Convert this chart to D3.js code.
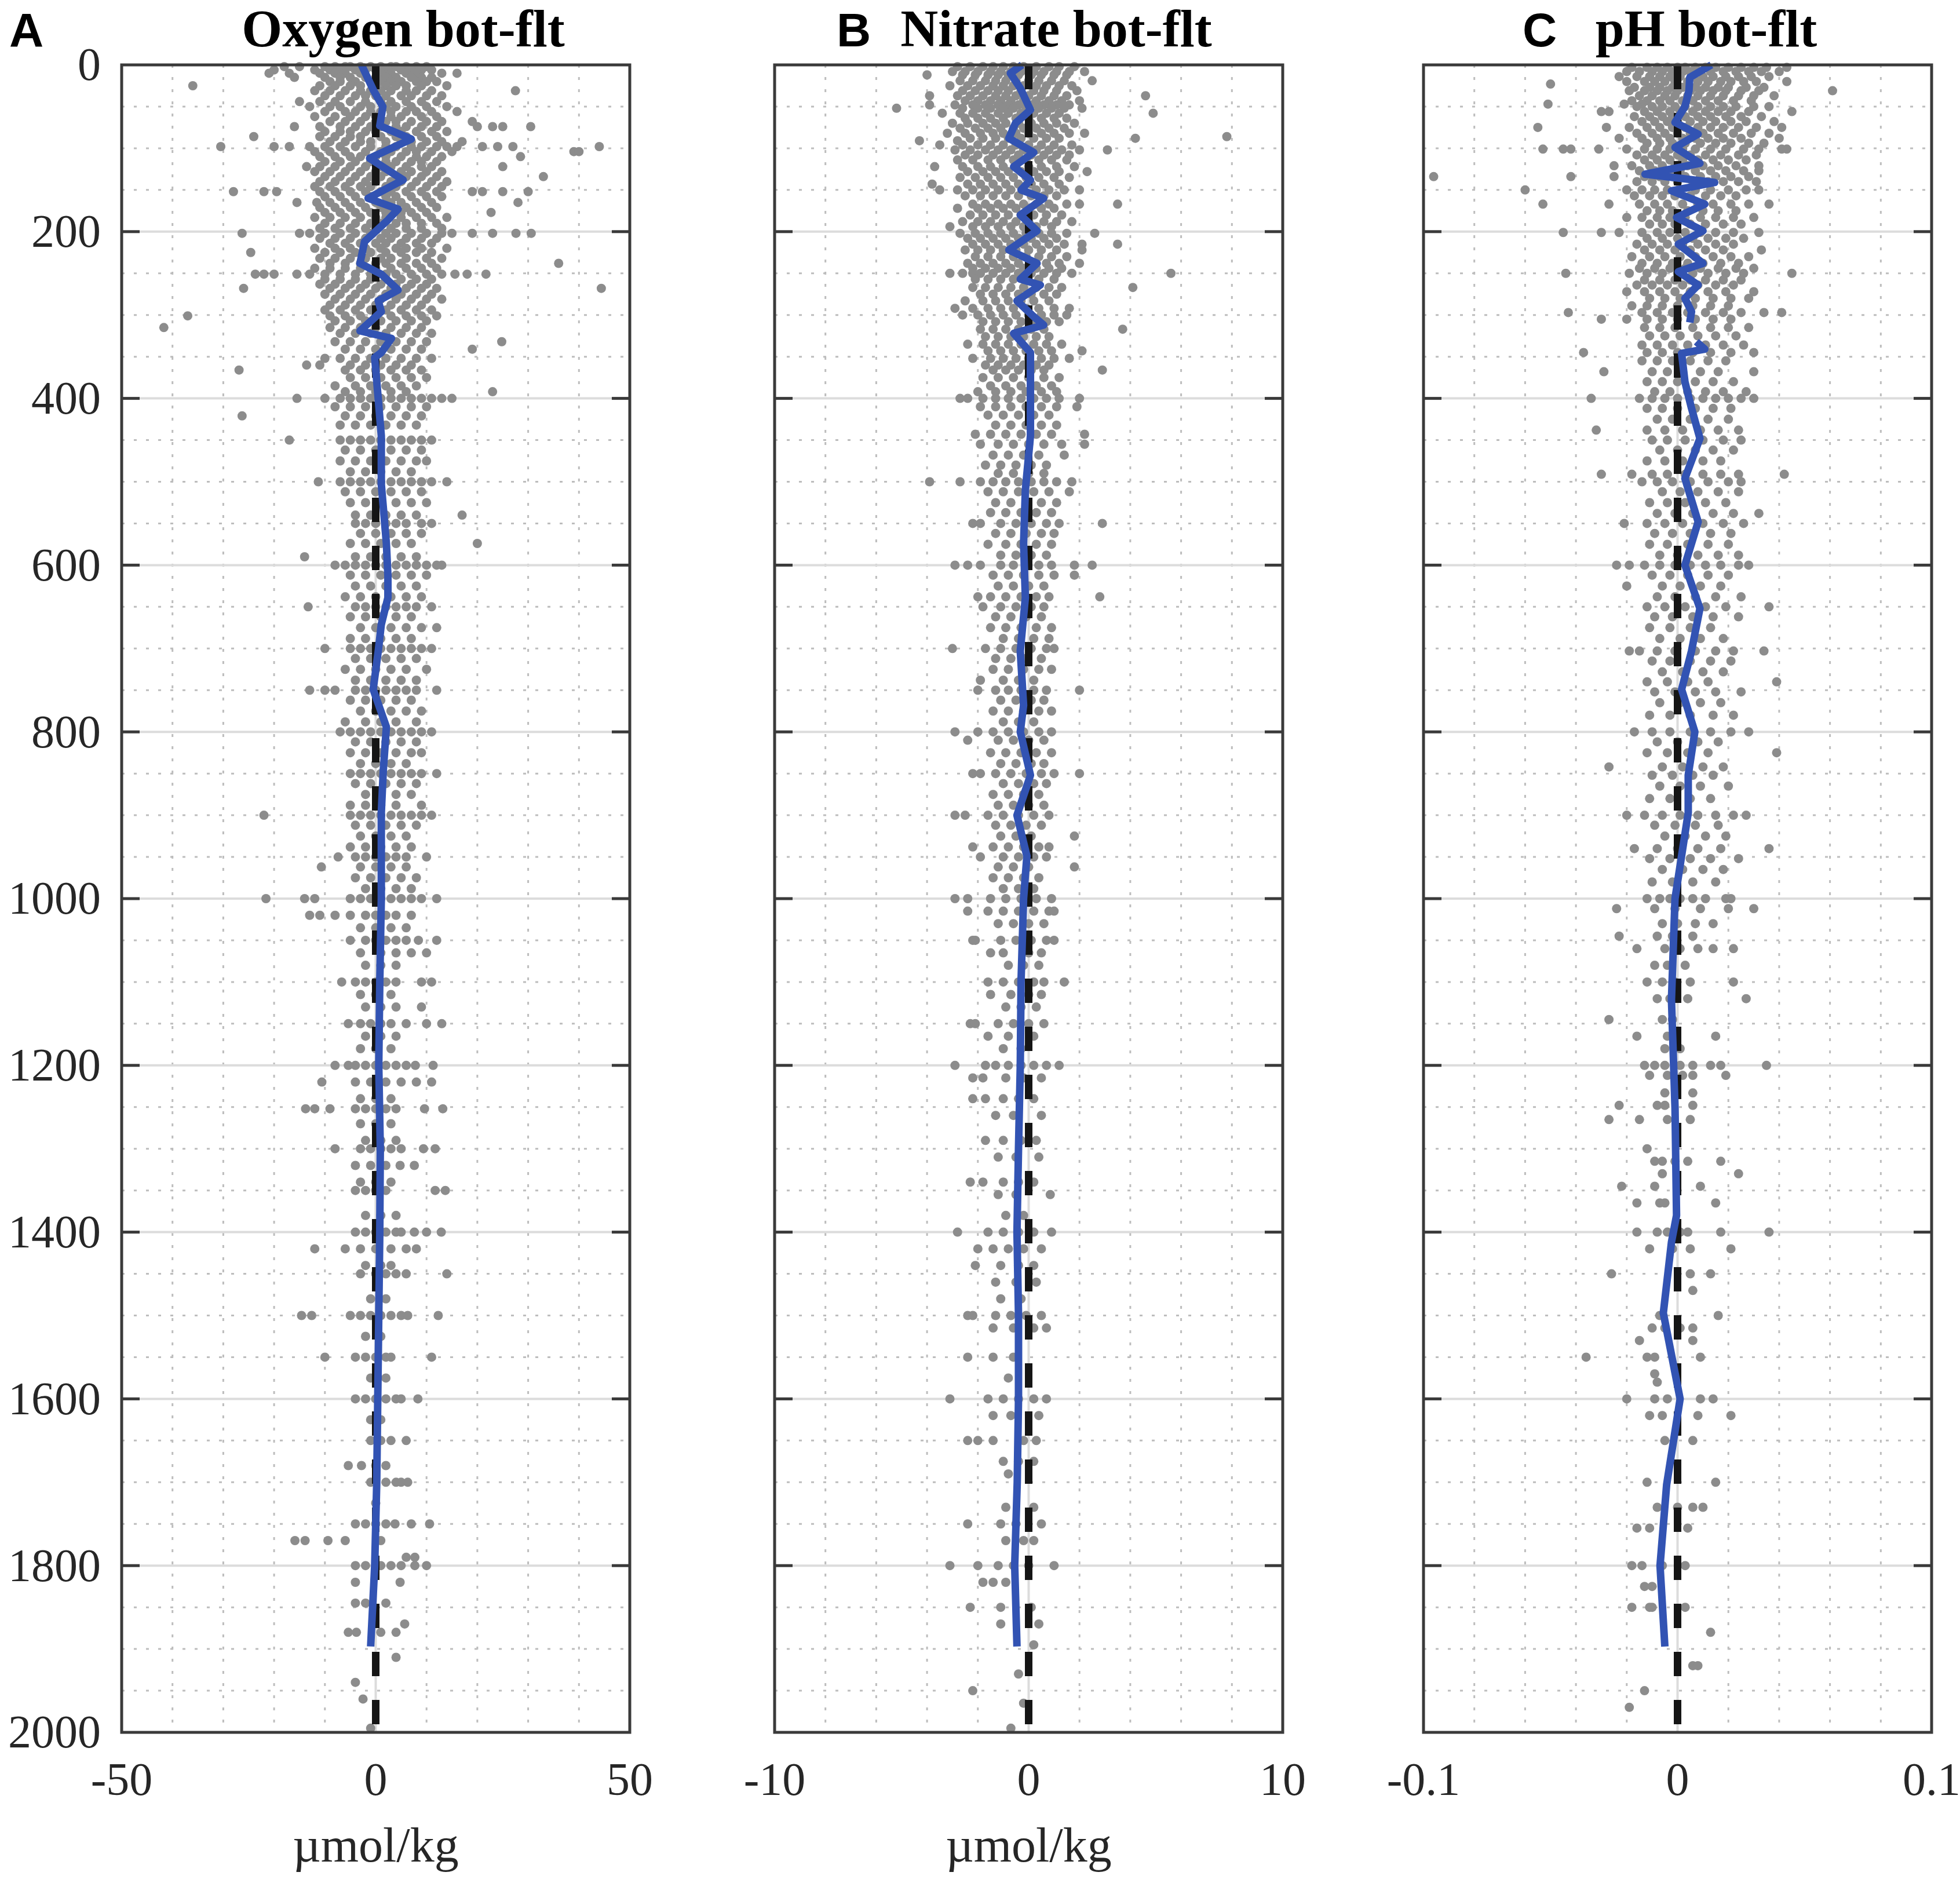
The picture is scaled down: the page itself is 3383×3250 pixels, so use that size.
<!DOCTYPE html>
<html><head><meta charset="utf-8">
<script src="https://cdn.jsdelivr.net/npm/d3@7"></script>
<style>html,body{margin:0;padding:0;background:#fff;}svg{display:block;}</style>
</head><body>
<script>
// ---------- DATA ----------
const panelTitles = ["Oxygen bot-flt", "Nitrate bot-flt", "pH bot-flt"];
const panelLetters = ["A", "B", "C"];
const xDomains = [[-50, 50], [-10, 10], [-0.1, 0.1]];
const xTickValues = [[-50, 0, 50], [-10, 0, 10], [-0.1, 0, 0.1]];
const xTickLabels = [["-50", "0", "50"], ["-10", "0", "10"], ["-0.1", "0", "0.1"]];
const xAxisLabels = ["µmol/kg", "µmol/kg", ""];
const depthDomain = [0, 2000];
const depthTickValues = [0, 200, 400, 600, 800, 1000, 1200, 1400, 1600, 1800, 2000];
const depthTickLabels = ["0","200","400","600","800","1000","1200","1400","1600","1800","2000"];

// scatter: [depth, [differences at that depth]]
const oxygenRows = [
[2,[-18,-15,-10,-8,-6,-5,-3,-1,1,3,4,6,8,10]],
[6,[-20,-12,-9,-7,-4,-2,0,2,5,7,9,11]],
[10,[-21,-17,-11,-8,-6,-3,1,3,6,8,13,16]],
[15,[-16,-10,-7,-5,-2,0,2,4,7,9,11]],
[20,[-9,-7,-4,-1,1,3,5,8,10,12]],
[25,[-36,-11,-8,-5,-3,0,2,4,6,9,14]],
[31,[-12,-9,-6,-3,-1,1,3,6,8,11,27.5]],
[37,[-10,-7,-4,-2,0,2,5,7,10,13]],
[44,[-15,-11,-8,-5,-2,1,3,6,9,12]],
[50,[-13,-9,-7,-3,-1,2,4,7,10,14]],
[56,[-10,-6,-4,-1,1,3,6,8,11,16]],
[62,[-12,-8,-5,-2,0,3,5,9,12]],
[68,[-9,-6,-3,0,2,4,7,10,13,19]],
[74,[-16,-11,-7,-4,-1,1,4,6,9,12,20,23,25,30.5]],
[80,[-10,-7,-5,-2,0,3,5,8,11,14]],
[86,[-24,-11,-8,-5,-3,1,4,6,9,12]],
[92,[-9,-6,-3,-1,2,5,7,10,13,17]],
[98,[-30.5,-20,-17,-13,-10,-7,-4,-1,2,4,7,9,12,14,16,21,24,27,44]],
[104,[-12,-9,-6,-2,1,3,6,8,11,15,39,40]],
[110,[-11,-8,-5,-3,0,2,5,8,10,13,28.5]],
[116,[-10,-7,-4,-1,2,4,7,9,12]],
[122,[-13.6,-11,-8,-5,-2,1,3,6,9,11,25]],
[128,[-12,-9,-6,-3,0,2,5,7,10,13]],
[134,[-10,-7,-4,-1,1,4,6,9,12,33]],
[140,[-11,-8,-5,-2,0,3,5,8,11,14]],
[146,[-12,-9,-6,-3,-1,2,4,7,10,13]],
[152,[-28,-22,-19.5,-11,-8,-5,-2,1,3,6,9,12,19,21,25,30]],
[158,[-10,-7,-4,-1,2,4,7,10,13]],
[165,[-15.5,-11.6,-9,-6,-3,0,3,5,8,11,28]],
[171,[-11,-8,-5,-2,1,3,6,9,12]],
[177,[-10,-7,-4,-1,2,5,7,10,22.7]],
[183,[-12,-9,-6,-3,0,2,5,8,11,14]],
[190,[-10,-7,-4,-1,1,4,6,9,12]],
[196,[-11,-8,-5,-2,0,3,6,9,13]],
[202,[-26.3,-15,-13,-10,-7,-4,-1,2,4,7,10,13,15,19,23,27.6,30.6]],
[208,[-11,-8,-5,-2,1,3,6,9,12]],
[214,[-9,-6,-3,0,2,5,8,11]],
[220,[-12,-8,-5,-2,1,4,6,9,14]],
[225,[-24.6,-10,-7,-4,-1,2,5,8,11]],
[232,[-11,-8,-5,-2,1,3,6,10,13]],
[238,[-9,-6,-3,0,2,5,8,11,36]],
[244,[-12,-9,-6,-3,0,3,6,9,12]],
[251,[-23.7,-22,-20,-15.5,-13,-10,-7,-4,-1,2,4,7,10,13,15.6,18,21.7]],
[257,[-10,-7,-4,-1,2,5,8,11]],
[263,[-11,-8,-5,-2,1,4,7,10]],
[268,[-26,-9,-6,-3,0,3,6,9,12,44.4]],
[275,[-10,-7,-4,-1,2,5,8,11]],
[281,[-8,-5,-2,1,4,7,10,13]],
[288,[-9,-6,-3,0,3,6,9]],
[294,[-10,-7,-4,-1,2,5,8,11]],
[301,[-37,-9,-6,-3,0,3,6,9,12]],
[307,[-8,-5,-2,1,4,7,10]],
[315,[-41.7,-9,-6,-3,0,3,6,9]],
[322,[-7,-4,-1,2,5,8,11]],
[332,[-8,-5,-2,1,4,7,10,24.8]],
[341,[-6,-3,0,3,6,9,19]],
[352,[-10,-7,-4,-1,2,5,8,11]],
[360,[-13.6,-11,-5,-2,1,4,7]],
[366,[-26.9,-6,-3,0,3,6,9]],
[375,[-5,-2,1,4,7,10]],
[385,[-8,-4,-1,2,5,8]],
[392,[-6,-3,0,3,6,23]],
[400,[-15.5,-10,-7,-5,-3,-1,1,3,5,7,9,11,13,15]],
[410,[-8,-5,-2,1,4,7,10]],
[421,[-26.3,-6,-3,0,3,6,9]],
[432,[-7,-4,-1,2,5,8]],
[450,[-17,-7,-5,-3,-1,1,3,5,7,9,11]],
[462,[-6,-3,0,3,6,9]],
[475,[-7,-4,-1,2,5,8,10]],
[488,[-5,-2,1,4,7]],
[500,[-11.3,-7,-5,-3,-1,1,3,5,7,9,11,14]],
[512,[-6,-3,0,3,6,9]],
[525,[-5,-2,1,4,7,10]],
[540,[-4,-1,2,5,8,17]],
[550,[-4,-2,0,2,4,6,9,11]],
[562,[-3,0,3,6,9]],
[574,[-5,-2,1,4,7,20]],
[590,[-14,-4,-1,2,5,8]],
[600,[-8,-6,-4,-2,0,2,4,6,8,10,12,13]],
[612,[-5,-2,1,4,7,10]],
[625,[-4,-1,2,5,8]],
[638,[-6,-3,0,3,6,9]],
[650,[-13.3,-4,-2,0,2,4,6,8,11]],
[662,[-5,-2,1,4,7]],
[675,[-3,0,3,6,9,12]],
[688,[-5,-2,1,4,7]],
[700,[-10,-5,-3,-1,1,3,5,7,9,11]],
[712,[-4,-1,2,5,8]],
[725,[-6,-3,0,3,6,10]],
[738,[-4,-1,2,5,8]],
[750,[-13,-10,-8,-4,-2,0,2,4,6,8,12]],
[762,[-5,-2,1,4,7]],
[775,[-3,0,3,6,9]],
[788,[-6,-2,1,4,8]],
[800,[-7,-5,-3,-1,1,3,5,7,9,11]],
[812,[-4,-1,2,5,8]],
[825,[-5,-2,1,4,7,9]],
[838,[-3,0,3,6]],
[850,[-5,-3,-1,1,3,5,7,9,12]],
[862,[-4,-1,2,5,8]],
[875,[-2,1,4,7]],
[888,[-5,-2,1,4,9]],
[900,[-22,-5,-3,-1,1,3,5,7,9,11]],
[912,[-4,-1,2,5,8]],
[925,[-3,0,3,6]],
[938,[-5,-2,1,4,7]],
[950,[-7.4,-4,-2,0,2,4,6,10]],
[962,[-10.7,-3,0,3,6]],
[975,[-4,-1,2,5,8]],
[988,[-2,1,4,7]],
[1000,[-21.6,-14,-12,-5,-3,-1,1,3,5,7,9,12]],
[1020,[-13,-11,-8,-5,-2,0,2,4,7]],
[1035,[-3,0,3,6]],
[1050,[-5,-2,0,2,4,6,8.4,12]],
[1065,[-3,1,4,7,10]],
[1080,[-2,1,4]],
[1100,[-6.7,-4,-2,0,2,4,9,11]],
[1115,[-3,0,3]],
[1130,[-2,1,4,9]],
[1150,[-5.4,-3,-1,1,3,6,10,13]],
[1165,[-2,1,4]],
[1180,[-3,0,3]],
[1200,[-8,-5.4,-4,-2,0,2,4,6,7.8,11.3]],
[1220,[-10.6,-4,-1,2,5,8,11]],
[1240,[-3,0,3]],
[1252,[-13.8,-12,-9,-4,-2,0,2,4,9.6,13.2]],
[1270,[-3,0,3]],
[1290,[-2,1,4]],
[1300,[-8,-3,-1,1,3,5,9.4,11.7]],
[1320,[-4,-1,2,4.8,7.6]],
[1340,[-3,0,3]],
[1350,[-4,-2,0,2,11.7,13.7]],
[1380,[-2,1,4]],
[1400,[-4,-2,0,2,4,5,7.6,10,12.9]],
[1420,[-12,-6,-3,0,3,6,8]],
[1440,[-2,1,3]],
[1450,[-3,0,2,4,6,14]],
[1480,[-1,2]],
[1500,[-14.6,-12.6,-5,-3,-1,1,3,5,6.3,12.3]],
[1525,[-2,1]],
[1550,[-10,-4,-2,0,2,3,11]],
[1575,[-1,2]],
[1600,[-4,-2,0,2,4,5,8.3]],
[1625,[-1,1]],
[1650,[-1,1,3,6]],
[1680,[-5.4,-2.8,0,2]],
[1700,[-1,2,4,5,6.3]],
[1725,[0]],
[1750,[-4,-2,0,2,3.8,7,10.6]],
[1770,[-15.9,-13.9,-9.4,-6,1]],
[1790,[7.7,6]],
[1800,[-4,-2,0,1,3,5,7.7,10]],
[1820,[-4,4.8]],
[1845,[-4,-2,2]],
[1870,[5.7]],
[1880,[-5.4,-3.8,1,4]],
[1910,[4]],
[1940,[-4]],
[1960,[-2.5]],
[1995,[-1]]
];

const nitrateRows = [
[2,[-2.8,-2.3,-1.8,-1.4,-1,-0.6,-0.2,0.3,0.8,1.2,1.8]],
[8,[-3,-2.5,-2,-1.5,-1.1,-0.7,-0.3,0.2,0.6,1.1,1.6,2.2]],
[12,[-4,-2.6,-2.1,-1.6,-1.2,-0.8,-0.4,0.1,0.5,1,1.5]],
[19,[-2.7,-2.2,-1.7,-1.3,-0.9,-0.5,0,0.4,0.9,1.4,2.5]],
[25,[-3.1,-2.4,-1.9,-1.4,-1,-0.6,-0.2,0.3,0.7,1.2,1.7]],
[31,[-2.6,-2.1,-1.6,-1.2,-0.8,-0.3,0.2,0.6,1.1,1.9]],
[37,[-3.9,-2.8,-2.3,-1.8,-1.3,-0.9,-0.5,0,0.5,1,1.5,4.6]],
[43,[-2.5,-2,-1.5,-1.1,-0.7,-0.2,0.3,0.8,1.3,2]],
[48,[-3.9,-2.9,-2.2,-1.7,-1.2,-0.8,-0.4,0.1,0.6,1.1,1.6]],
[52,[-5.2,-2.6,-2,-1.5,-1,-0.6,-0.1,0.4,0.9,1.4,2.1]],
[58,[-3.4,-2.7,-2.2,-1.7,-1.2,-0.8,-0.3,0.2,0.7,1.2,4.9]],
[64,[-2.5,-2,-1.5,-1,-0.5,0,0.5,1,1.5]],
[70,[-3,-2.4,-1.8,-1.3,-0.9,-0.4,0.1,0.6,1.1,1.8]],
[76,[-2.7,-2.1,-1.6,-1.1,-0.6,-0.2,0.3,0.8,1.4]],
[82,[-3.2,-2.5,-1.9,-1.4,-1,-0.5,0,0.5,1,1.6,2.2]],
[86,[7.8]],
[88,[-2.3,-1.8,-1.3,-0.8,-0.3,0.2,0.7,1.2,4.2]],
[91,[-4.3,-2.8]],
[96,[-3.5,-2.6,-2,-1.5,-1,-0.5,0,0.5,1,1.7]],
[102,[-2.9,-2.3,-1.7,-1.2,-0.7,-0.2,0.3,0.8,1.3,2,3.1]],
[108,[-2.5,-2,-1.4,-0.9,-0.4,0.1,0.6,1.1,1.6]],
[114,[-2.8,-2.2,-1.6,-1.1,-0.6,-0.1,0.4,0.9,1.5]],
[122,[-3.7,-2.6,-2,-1.5,-1,-0.5,0,0.5,1.1,1.8]],
[128,[-2.4,-1.8,-1.3,-0.8,-0.3,0.2,0.7,1.2,2.3]],
[135,[-2.7,-2.1,-1.6,-1.1,-0.6,-0.1,0.4,1,1.6]],
[143,[-3.8,-2.4,-1.9,-1.4,-0.9,-0.4,0.1,0.6,1.2]],
[150,[-3.5,-2.8,-2.2,-1.7,-1.2,-0.7,-0.2,0.3,0.8,1.4,2]],
[157,[-2.5,-1.9,-1.4,-0.9,-0.4,0.1,0.6,1.1]],
[167,[-2.2,-1.7,-1.2,-0.7,-0.2,0.3,0.8,1.5,2,3.5]],
[172,[-2.8,-2,-1.5,-1,-0.5,0,0.5,1]],
[180,[-2.3,-1.8,-1.3,-0.8,-0.3,0.2,0.7,1.3]],
[188,[-2.6,-2,-1.5,-1,-0.5,0,0.6,1.1,1.7]],
[194,[-3.1,-2.2,-1.7,-1.2,-0.7,-0.2,0.3,0.9]],
[202,[-2.7,-2.1,-1.6,-1.1,-0.6,-0.1,0.4,0.9,1.5,2.6]],
[208,[-2.4,-1.9,-1.4,-0.9,-0.4,0.1,0.6,1.1]],
[215,[-2.2,-1.7,-1.2,-0.7,-0.2,0.3,0.8,1.4,2.1,3.5]],
[222,[-2.5,-2,-1.5,-1,-0.5,0,0.5,1.1,2.1]],
[230,[-2.1,-1.6,-1.1,-0.6,-0.1,0.4,0.9,1.5]],
[238,[-2.4,-1.9,-1.4,-0.9,-0.4,0.1,0.7,1.2,2]],
[244,[-2.2,-1.7,-1.2,-0.7,-0.2,0.3,0.8,1.3]],
[250,[-3.1,-2.6,-2.2,-1.9,-1.4,-0.9,-0.4,0.1,0.6,1.1,1.7,5.6]],
[257,[-2.1,-1.6,-1.1,-0.6,-0.1,0.4,1]],
[267,[-2.2,-1.7,-1.2,-0.7,-0.2,0.3,0.8,1.3,4.1]],
[275,[-1.9,-1.4,-0.9,-0.4,0.1,0.6,1.1]],
[283,[-2.5,-1.8,-1.3,-0.8,-0.3,0.2,0.8]],
[292,[-2.9,-2.2,-1.6,-1.1,-0.6,-0.1,0.4,1,1.6]],
[300,[-2.6,-2,-1.5,-1,-0.5,0,0.5,1,1.5]],
[308,[-1.8,-1.3,-0.8,-0.3,0.2,0.7,1.2]],
[317,[-1.9,-1.4,-0.9,-0.4,0.1,0.6,3.7]],
[326,[-1.7,-1.2,-0.7,-0.2,0.3,0.8]],
[335,[-2.4,-1.8,-1.3,-0.8,-0.3,0.2,0.7,1.3]],
[343,[-1.6,-1.1,-0.6,-0.1,0.4,0.9,2.1]],
[352,[-2.2,-1.5,-1,-0.5,0,0.5,1,1.6]],
[360,[-1.7,-1.2,-0.7,-0.2,0.3,0.8]],
[366,[-1.4,-0.9,-0.4,0.1,0.6,2.9]],
[375,[-1.8,-1.2,-0.6,0,0.6,1.2]],
[385,[-1.5,-0.9,-0.3,0.3,0.9]],
[392,[-2,-1.3,-0.7,-0.1,0.5,1.1]],
[400,[-2.7,-2.4,-1.8,-1.3,-0.8,-0.3,0.2,0.7,1.2,2]],
[410,[-1.9,-1.3,-0.7,-0.1,0.5,1.1,1.9]],
[420,[-1.6,-1,-0.4,0.2,0.8]],
[432,[-1.3,-0.7,-0.1,0.5,1.1]],
[443,[-2.1,-1.5,-0.9,-0.3,0.3,0.9,2.2]],
[455,[-1.9,-1.2,-0.6,0,0.6,1.3,2.2]],
[468,[-1.4,-0.8,-0.2,0.4,1.4]],
[480,[-1.7,-1.1,-0.5,0.1,0.7]],
[490,[-1.2,-0.6,0,0.6]],
[500,[-3.9,-2.7,-1.9,-1.4,-0.9,-0.4,0.1,0.6,1.1,1.7]],
[512,[-1.6,-1,-0.4,0.2,0.8,1.6]],
[525,[-1.3,-0.7,-0.1,0.5,1.1]],
[537,[-1.5,-0.9,-0.3,0.3,0.9]],
[550,[-2.2,-1.9,-1.1,-0.5,0.1,0.7,1.2,2.9]],
[562,[-1.3,-0.7,-0.1,0.5,1]],
[575,[-1.6,-0.9,-0.3,0.3,0.9]],
[588,[-1.1,-0.5,0.1,0.7]],
[600,[-2.9,-2.4,-1.9,-1.1,-0.6,-0.1,0.4,0.9,1.8,2.5]],
[612,[-1.4,-0.8,-0.2,0.4,1,1.8]],
[625,[-1.2,-0.6,0,0.6]],
[638,[-2,-1.5,-0.9,-0.3,0.3,0.8,2.8]],
[650,[-1.8,-1.1,-0.5,0.1,0.6]],
[662,[-1.3,-0.7,-0.1,0.5]],
[675,[-1.5,-0.9,-0.3,0.3,0.9]],
[688,[-1,-0.4,0.2,0.8]],
[700,[-3,-1.7,-1.1,-0.5,0.1,0.7,1]],
[712,[-1.3,-0.7,-0.1,0.5]],
[725,[-1.4,-0.8,-0.2,0.4,0.9]],
[738,[-1.9,-1,-0.4,0.2]],
[750,[-2,-1.3,-0.8,-0.3,0.2,0.7,2]],
[762,[-1.1,-0.5,0.1,0.6]],
[775,[-1.4,-0.8,-0.2,0.4,0.9]],
[788,[-1,-0.4,0.2]],
[800,[-2.9,-2,-1.4,-0.8,-0.2,0.4,0.9]],
[810,[-2.4,-1.2,-0.6,0,0.6]],
[825,[-1.5,-0.9,-0.3,0.3,0.9]],
[838,[-1.1,-0.5,0.1,0.6]],
[850,[-2.2,-1.9,-1.3,-0.7,-0.1,0.5,1,2]],
[862,[-1,-0.4,0.2,0.7]],
[875,[-1.4,-0.8,-0.2,0.4]],
[888,[-1.2,-0.6,0,0.6]],
[900,[-2.9,-2.5,-1.6,-1,-0.4,0.2,0.8]],
[912,[-1.3,-0.7,-0.1,0.5]],
[925,[-1.1,-0.5,0.1,1.8]],
[938,[-2.2,-1.4,-0.8,-0.2,0.4,0.8]],
[950,[-1.9,-1,-0.4,0.2,0.7]],
[962,[-1.2,-0.6,0,1.8]],
[975,[-1.4,-0.8,-0.2,0.4]],
[988,[-1,-0.4,0.2]],
[1000,[-2.9,-2.4,-1.5,-0.9,-0.3,0.3,0.9]],
[1015,[-2.4,-1.6,-1,-0.4,0.2,0.8,1]],
[1030,[-1.2,-0.6,0,0.6]],
[1050,[-2.2,-2.1,-1.1,-0.5,0.1,0.7,1]],
[1065,[-1.5,-1,0,0.5]],
[1080,[-0.8,-0.2,0.4]],
[1100,[-1.6,-1,-0.4,0.2,0.6,1.4]],
[1115,[-1.5,-0.7,0,0.5]],
[1130,[-0.9,-0.3,0.3]],
[1150,[-2.3,-2.1,-1.2,-0.6,0,0.6]],
[1165,[-1.6,-0.8,0.2]],
[1180,[-1,-0.3]],
[1200,[-2.9,-1.7,-1.3,-0.8,-0.3,0.2,0.7,1.2]],
[1215,[-2.2,-1.8,-0.9,-0.2,0.5]],
[1240,[-2.2,-1.7,-1,-0.4,0.2]],
[1260,[-1.3,-0.6,0.5]],
[1290,[-1.7,-1,-0.3,0.3]],
[1310,[-1.2,-0.5,0.4]],
[1340,[-2.3,-1.8,-1,-0.4,0.2]],
[1355,[-1.2,-0.5,0.85]],
[1380,[-0.9,-0.2]],
[1400,[-2.8,-1.6,-1,-0.4,0.2,0.9]],
[1420,[-2,-1.4,-0.8,-0.2,0.5]],
[1440,[-2.1,-1.1,-0.4,0.2]],
[1460,[-1.3,-0.5,0.3]],
[1480,[-1.1,-0.3]],
[1500,[-2.4,-2.2,-1.3,-0.7,-0.1,0.5]],
[1515,[-1.4,-0.6,0.2,0.7]],
[1550,[-2.4,-1.4,-0.6]],
[1575,[-0.8]],
[1600,[-3.1,-1.6,-1,-0.4,0.2,0.7]],
[1620,[-1.4,-0.7,0.4]],
[1650,[-2.4,-2,-1.4,-0.2,0.3]],
[1675,[-1,-0.4,0.2]],
[1690,[-0.8]],
[1730,[-0.9,0.2]],
[1750,[-2.4,-1.1,-0.5,0.5]],
[1770,[-0.9,-0.2,0.2]],
[1800,[-3.1,-2,-1.2,-0.6,0,1]],
[1820,[-1.8,-1.4,-0.9]],
[1850,[-2.3,-1.1,0.1]],
[1870,[-1.1,0.4]],
[1895,[0.2]],
[1930,[-0.4]],
[1950,[-2.2]],
[1965,[-0.2]],
[1995,[-0.7]]
];

const phRows = [
[3,[-.018,-.012,-.008,-.004,0,.003,.007,.011,.015,.02,.025,.03,.035,.043]],
[8,[-.02,-.015,-.01,-.006,-.002,.002,.005,.009,.013,.018,.023,.028,.033,.04]],
[14,[-.023,-.016,-.011,-.007,-.003,.001,.006,.01,.014,.019,.024,.029,.036]],
[20,[-.02,-.013,-.009,-.005,-.001,.004,.008,.012,.017,.021,.026,.031,.043]],
[23,[-.05]],
[27,[-.017,-.011,-.007,-.002,.002,.007,.011,.016,.02,.027,.034]],
[31,[-.019,-.013,-.008,-.004,0,.005,.009,.014,.019,.025,.032,.061]],
[37,[-.015,-.01,-.005,-.001,.004,.008,.013,.018,.024,.03,.038]],
[43,[-.018,-.012,-.007,-.003,.002,.006,.011,.016,.022,.029]],
[47,[-.051,-.021,-.014]],
[50,[-.016,-.01,-.006,-.001,.003,.008,.013,.018,.023,.03,.036]],
[56,[-.03,-.027,-.013,-.008,-.003,.001,.006,.011,.016,.021,.028,.045]],
[62,[-.017,-.011,-.006,-.002,.003,.008,.013,.019,.025,.033]],
[68,[-.014,-.009,-.004,0,.005,.01,.015,.021,.027,.038]],
[75,[-.055,-.028,-.019,-.012,-.007,-.002,.003,.008,.013,.018,.024,.031,.041]],
[82,[-.016,-.01,-.005,0,.005,.01,.016,.022,.029,.036]],
[88,[-.023,-.014,-.008,-.003,.002,.007,.012,.018,.025,.04]],
[94,[-.012,-.007,-.002,.003,.009,.015,.021,.028,.034]],
[101,[-.053,-.045,-.042,-.031,-.02,-.013,-.008,-.003,.002,.007,.013,.019,.026,.032,.041,.043]],
[108,[-.016,-.01,-.005,0,.005,.011,.017,.024,.031]],
[114,[-.013,-.008,-.003,.002,.008,.014,.02,.027]],
[121,[-.025,-.018,-.011,-.006,-.001,.004,.01,.016,.023,.032]],
[127,[-.015,-.009,-.004,.001,.007,.013,.019,.026,.032]],
[134,[-.096,-.042,-.025,-.013,-.007,-.002,.003,.009,.015,.021,.028]],
[140,[-.016,-.01,-.005,0,.006,.012,.018,.024,.031]],
[150,[-.06,-.02,-.014,-.009,-.004,.001,.007,.013,.02,.027,.032]],
[157,[-.017,-.011,-.006,-.001,.005,.011,.017,.023]],
[167,[-.053,-.027,-.015,-.009,-.004,.002,.008,.014,.021,.028,.036]],
[175,[-.012,-.007,-.002,.004,.01,.016,.023]],
[183,[-.02,-.014,-.008,-.003,.003,.009,.015,.022,.03]],
[191,[-.011,-.006,-.001,.005,.011,.018,.025]],
[201,[-.045,-.03,-.023,-.014,-.008,-.003,.003,.009,.015,.022,.032]],
[208,[-.012,-.006,0,.006,.012,.019,.026]],
[215,[-.016,-.01,-.004,.002,.008,.015,.022]],
[222,[-.013,-.007,-.001,.005,.011,.018,.033]],
[230,[-.018,-.011,-.005,.001,.007,.014,.021,.028]],
[238,[-.014,-.008,-.002,.004,.01,.017,.024]],
[244,[-.015,-.009,-.003,.003,.009,.016,.023,.03]],
[250,[-.044,-.019,-.012,-.006,0,.006,.012,.019,.026,.045]],
[258,[-.013,-.007,-.001,.005,.011,.018,.025]],
[264,[-.016,-.01,-.004,.002,.008,.015,.022]],
[272,[-.02,-.013,-.007,-.001,.005,.012,.019,.03]],
[280,[-.011,-.005,.001,.007,.014,.021,.028]],
[289,[-.018,-.012,-.006,0,.006,.013,.02]],
[297,[-.043,-.014,-.008,-.002,.004,.011,.018,.025,.034,.041]],
[305,[-.03,-.02,-.012,-.006,0,.007,.014,.021]],
[315,[-.013,-.007,-.001,.006,.013,.02,.028]],
[325,[-.011,-.005,.001,.008,.015,.023]],
[336,[-.014,-.008,-.002,.004,.011,.018,.026]],
[345,[-.037,-.012,-.006,0,.006,.013,.021,.03]],
[355,[-.014,-.008,-.002,.005,.012,.019]],
[368,[-.029,-.01,-.004,.002,.009,.016,.03]],
[380,[-.012,-.006,0,.007,.014,.022]],
[392,[-.009,-.003,.004,.011,.018,.027]],
[400,[-.034,-.015,-.01,-.005,0,.005,.01,.015,.02,.025,.03]],
[412,[-.012,-.006,0,.007,.014,.021]],
[425,[-.008,-.002,.005,.012,.02]],
[438,[-.032,-.012,-.005,.002,.009,.016,.024]],
[450,[-.01,-.004,.003,.01,.018,.025]],
[462,[-.007,0,.007,.014,.022]],
[475,[-.012,-.005,.002,.01,.017]],
[491,[-.03,-.018,-.01,-.004,.003,.01,.017,.024,.042]],
[500,[-.014,-.008,-.002,.005,.012,.02,.025]],
[512,[-.006,.001,.008,.016,.024]],
[525,[-.011,-.004,.003,.011,.019]],
[538,[-.008,-.001,.006,.014,.022,.032]],
[550,[-.021,-.012,-.005,.002,.01,.018,.026]],
[562,[-.009,-.002,.005,.013,.021]],
[575,[-.011,-.004,.004,.012,.02]],
[588,[-.007,0,.008,.016,.024]],
[600,[-.024,-.019,-.013,-.007,-.001,.005,.011,.017,.024,.028]],
[612,[-.01,-.003,.004,.012,.02]],
[625,[-.02,-.006,.001,.009,.017]],
[638,[-.008,-.001,.007,.015,.025]],
[650,[-.012,-.005,.003,.011,.019,.036]],
[662,[-.009,-.002,.006,.014,.024]],
[675,[-.011,-.003,.005,.013]],
[688,[-.007,.001,.009,.018]],
[703,[-.019,-.015,-.008,-.001,.007,.015,.022,.034]],
[715,[-.01,-.003,.005,.013,.021]],
[728,[-.006,.002,.01,.018]],
[740,[-.012,-.004,.004,.012,.039]],
[752,[-.009,-.001,.007,.015,.025]],
[765,[-.007,.001,.009,.017]],
[780,[-.011,-.003,.005,.014,.022]],
[800,[-.017,-.01,-.003,.005,.013,.021,.028]],
[812,[-.008,0,.008,.016]],
[825,[-.012,-.004,.004,.012,.039]],
[842,[-.027,-.006,.002,.01,.018]],
[852,[-.01,-.002,.006,.014]],
[865,[-.007,.001,.009,.02]],
[880,[-.011,-.003,.005,.013]],
[900,[-.02,-.013,-.006,.001,.008,.015,.022,.027]],
[912,[-.009,-.001,.007,.016]],
[925,[-.005,.003,.011,.019]],
[940,[-.017,-.008,0,.008,.017,.036]],
[952,[-.011,-.003,.005,.013,.024]],
[965,[-.006,.002,.01,.018]],
[980,[-.01,-.002,.006,.015]],
[1000,[-.012,-.007,-.003,.001,.006,.011,.019,.021]],
[1012,[-.024,-.009,-.001,.009,.02,.03]],
[1030,[-.006,0,.007,.014]],
[1045,[-.023,-.008,-.002,.006]],
[1060,[-.016,-.005,.001,.008,.014,.022]],
[1080,[-.009,-.004,.003]],
[1100,[-.012,-.006,-.001,.005,.022]],
[1120,[-.008,-.003,.004,.027]],
[1145,[-.027,-.006,-.002]],
[1165,[-.016,-.004,.015]],
[1180,[-.005,.001]],
[1200,[-.013,-.009,-.005,.001,.006,.013,.017,.035]],
[1212,[-.011,-.004,.002,.006,.019]],
[1233,[-.005,.006]],
[1248,[-.023,-.008,-.005,.006]],
[1265,[-.027,-.015,-.004,.005]],
[1300,[-.012]],
[1315,[-.009,-.006,-.001,.004,.017]],
[1330,[-.006,.024]],
[1345,[-.022,-.009,.009]],
[1365,[-.016,-.007,-.005,.015]],
[1400,[-.016,-.008,-.004,.001,.004,.017,.036]],
[1420,[-.011,-.002,.005,.021]],
[1450,[-.026,.005,.013]],
[1470,[.006]],
[1500,[-.007,.016]],
[1515,[-.01,-.005,.001,.006]],
[1530,[-.015,.006]],
[1550,[-.036,-.012,-.009,.009]],
[1570,[-.009]],
[1580,[-.008]],
[1600,[-.02,-.009,-.004,.009,.014]],
[1620,[-.011,-.006,.008,.021]],
[1650,[-.005,.006]],
[1700,[-.012,.015]],
[1730,[-.008,0,.006,.01]],
[1755,[-.016,-.011,.004]],
[1800,[-.018,-.014,-.006,.003]],
[1825,[-.013,-.01]],
[1850,[-.018,-.011,-.01,.003]],
[1880,[.013]],
[1920,[.006,.008]],
[1950,[-.013]],
[1970,[-.019]]
];

// mean profiles: [depth, mean difference] (null = gap)
const oxygenMean = [[0,-2.8],[31,-0.4],[50,1.4],[73,0.8],[89,7.0],[112,-1.2],[138,5.4],[160,-1.5],[173,4.4],[186,2.4],[212,-2.2],[238,-3.1],[251,1.1],[270,4.4],[283,0.5],[296,1.1],[319,-3.1],[328,3.1],[345,1.1],[351,-0.2],[401,0.5],[445,1.1],[503,1.1],[574,2.1],[613,2.4],[639,2.4],[671,1.1],[703,0.5],[749,-0.5],[794,2.1],[845,1.5],[897,1.1],[1000,1.1],[1100,0.8],[1200,0.6],[1300,0.9],[1400,0.8],[1500,0.6],[1600,0.4],[1700,0.2],[1800,-0.2],[1897,-1]];
const nitrateMean = [[0,-0.26],[10,-0.72],[28,-0.33],[54,0.07],[70,-0.52],[88,-0.78],[105,0.2],[122,-0.59],[138,0.07],[150,-0.3],[160,0.59],[180,-0.33],[199,0.33],[222,-0.78],[238,0.33],[257,-0.33],[264,0.46],[283,-0.46],[302,0.2],[312,0.59],[322,-0.59],[345,0.07],[380,0.07],[445,0.07],[510,-0.13],[574,-0.2],[639,-0.13],[703,-0.33],[768,-0.2],[800,-0.33],[852,0.07],[900,-0.46],[949,-0.07],[1000,-0.2],[1100,-0.3],[1200,-0.33],[1300,-0.4],[1400,-0.46],[1500,-0.4],[1600,-0.4],[1700,-0.45],[1800,-0.55],[1897,-0.46]];
const phMean = [[0,.0133],[15,.0048],[31,.0045],[50,.0029],[69,-.001],[83,.0081],[99,-.001],[118,.0088],[131,-.0128],[141,.0146],[151,-.0024],[167,.0107],[183,-.0004],[199,.01],[215,.0003],[238,.01],[248,.0003],[264,.0081],[280,.0029],[296,.0055],[309,.0048],[320,null],[332,.0074],[341,.0107],[346,.0016],[380,.0029],[412,.0055],[448,.0088],[496,.0029],[548,.0081],[600,.0029],[652,.0088],[703,.0055],[749,.0016],[800,.0068],[852,.0042],[897,.0042],[1000,-.001],[1121,-.0024],[1251,-.001],[1380,-.0004],[1412,-.0024],[1497,-.0056],[1600,.001],[1703,-.0043],[1800,-.0069],[1897,-.005]];

const scatterSets = [oxygenRows, nitrateRows, phRows];
const meanSets = [oxygenMean, nitrateMean, phMean];

// ---------- LAYOUT ----------
const W = 3383, H = 3250;
const layout = {
  lefts: [210, 1337, 2457], top: 112, width: 877, height: 2878,
  titleX: [696, 1823, 2945], letterX: [16, 1444, 2628], titleBaseline: 80,
  yLabelRight: 174, xTickBaseline: 3098, xLabelBaseline: 3213
};

const svg = d3.select("body").append("svg").attr("width", W).attr("height", H)
  .attr("viewBox", `0 0 ${W} ${H}`);
svg.append("rect").attr("width", W).attr("height", H).attr("fill", "#fff");

const serif = "'Liberation Serif','Times New Roman',Times,serif";
const sans = "'Liberation Sans',Arial,Helvetica,sans-serif";
const axisCol = "#3a3a3a";
const textCol = "#262626";

const y = d3.scaleLinear().domain(depthDomain).range([layout.top, layout.top + layout.height]);

for (let p = 0; p < 3; p++) {
  const L = layout.lefts[p], R = L + layout.width, T = layout.top, B = T + layout.height;
  const x = d3.scaleLinear().domain(xDomains[p]).range([L, R]);
  const g = svg.append("g");

  // minor grid (dotted)
  const minorX = x.ticks(10).filter(v => !xTickValues[p].some(t => Math.abs(t - v) < 1e-9));
  const minorY = y.ticks(40).filter(v => v % 200 !== 0);
  g.append("g").selectAll("line").data(minorX).join("line")
    .attr("x1", d => x(d)).attr("x2", d => x(d)).attr("y1", T).attr("y2", B)
    .attr("stroke", "#bdbdbd").attr("stroke-width", 3).attr("stroke-dasharray", "5,16");
  g.append("g").selectAll("line").data(minorY).join("line")
    .attr("x1", L).attr("x2", R).attr("y1", d => y(d)).attr("y2", d => y(d))
    .attr("stroke", "#bdbdbd").attr("stroke-width", 3).attr("stroke-dasharray", "5,16");
  // major grid
  g.append("g").selectAll("line").data(depthTickValues).join("line")
    .attr("x1", L).attr("x2", R).attr("y1", d => y(d)).attr("y2", d => y(d))
    .attr("stroke", "#dcdcdc").attr("stroke-width", 4);
  g.append("g").selectAll("line").data(xTickValues[p]).join("line")
    .attr("x1", d => x(d)).attr("x2", d => x(d)).attr("y1", T).attr("y2", B)
    .attr("stroke", "#dcdcdc").attr("stroke-width", 4);

  // scatter
  const pts = [];
  scatterSets[p].forEach(([d, vals]) => vals.forEach(v => pts.push([d, v])));
  g.append("g").selectAll("circle").data(pts).join("circle")
    .attr("cx", d => x(d[1])).attr("cy", d => y(d[0])).attr("r", 8)
    .attr("fill", "#8c8c8c");

  // zero dashed line
  g.append("line").attr("x1", x(0)).attr("x2", x(0)).attr("y1", y(0)).attr("y2", y(2000))
    .attr("stroke", "#151515").attr("stroke-width", 13).attr("stroke-dasharray", "42,41");

  // mean line
  const line = d3.line().defined(d => d[1] !== null).x(d => x(d[1])).y(d => y(d[0]));
  g.append("path").datum(meanSets[p]).attr("d", line)
    .attr("fill", "none").attr("stroke", "#3253b3").attr("stroke-width", 13)
    .attr("stroke-linejoin", "round").attr("stroke-linecap", "butt");

  // box
  g.append("rect").attr("x", L).attr("y", T).attr("width", layout.width).attr("height", layout.height)
    .attr("fill", "none").attr("stroke", axisCol).attr("stroke-width", 5);

  // ticks (inward)
  const tl = 31;
  const yt = depthTickValues.filter(v => v > 0 && v < 2000);
  g.append("g").selectAll("line").data(yt).join("line")
    .attr("x1", L).attr("x2", L + tl).attr("y1", d => y(d)).attr("y2", d => y(d))
    .attr("stroke", axisCol).attr("stroke-width", 5);
  g.append("g").selectAll("line").data(yt).join("line")
    .attr("x1", R - tl).attr("x2", R).attr("y1", d => y(d)).attr("y2", d => y(d))
    .attr("stroke", axisCol).attr("stroke-width", 5);

  // x tick labels
  g.append("g").selectAll("text").data(xTickValues[p]).join("text")
    .attr("x", d => x(d)).attr("y", layout.xTickBaseline)
    .attr("text-anchor", "middle").attr("font-family", serif).attr("font-size", 80)
    .attr("fill", textCol).text((d, i) => xTickLabels[p][i]);

  // y tick labels (first panel only)
  if (p === 0) {
    g.append("g").selectAll("text").data(depthTickValues).join("text")
      .attr("x", layout.yLabelRight).attr("y", d => y(d)).attr("dy", "0.33em")
      .attr("text-anchor", "end").attr("font-family", serif).attr("font-size", 80)
      .attr("fill", textCol).text((d, i) => depthTickLabels[i]);
  }

  // x-axis label
  if (xAxisLabels[p]) {
    g.append("text").attr("x", (L + R) / 2).attr("y", layout.xLabelBaseline)
      .attr("text-anchor", "middle").attr("font-family", serif).attr("font-size", 84)
      .attr("fill", textCol).text(xAxisLabels[p]);
  }

  // title and panel letter
  g.append("text").attr("x", layout.titleX[p]).attr("y", layout.titleBaseline)
    .attr("text-anchor", "middle").attr("font-family", serif).attr("font-weight", "bold")
    .attr("font-size", 90).attr("fill", "#000").text(panelTitles[p]);
  g.append("text").attr("x", layout.letterX[p]).attr("y", layout.titleBaseline)
    .attr("font-family", sans).attr("font-weight", "bold")
    .attr("font-size", 82).attr("fill", "#000").text(panelLetters[p]);
}
</script>
</body></html>
